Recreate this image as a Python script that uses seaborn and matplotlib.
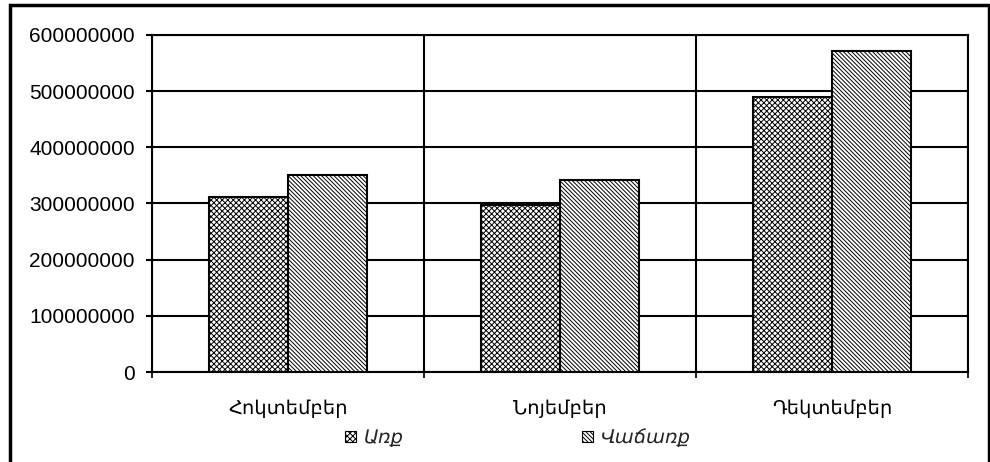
import pandas as pd
import matplotlib.pyplot as plt
import matplotlib.patches as mpatches
import seaborn as sns

# Chart data
months = ['Հոկտեմբեր', 'Նոյեմբեր', 'Դեկտեմբեր']
series_names = ['Առք', 'Վաճառք']
buy_values = [312000000, 298000000, 490000000]
sell_values = [351000000, 341000000, 571000000]
y_ticks = [0, 100000000, 200000000, 300000000, 400000000, 500000000, 600000000]

df = pd.DataFrame({
    'month': months * 2,
    'series': [series_names[0]] * 3 + [series_names[1]] * 3,
    'value': buy_values + sell_values,
})

sns.set_style('white')
plt.rcParams['font.family'] = ['Liberation Sans', 'DejaVu Sans']
plt.rcParams['hatch.linewidth'] = 0.7
plt.rcParams['hatch.color'] = 'black'

fig = plt.figure(figsize=(9.9, 4.62), dpi=100)
ax = fig.add_axes([152 / 990, 90 / 462, 816 / 990, 337 / 462])

sns.barplot(data=df, x='month', y='value', hue='series', order=months,
            hue_order=series_names, width=0.58, ax=ax, legend=False,
            saturation=1)

# hatch density: each character gives 6 lines per inch
hatches = ['x' * 6, '\\' * 8]
for container, hatch in zip(ax.containers, hatches):
    for bar in container:
        bar.set_facecolor('white')
        bar.set_edgecolor('black')
        bar.set_linewidth(1.5)
        bar.set_hatch(hatch)
        bar.set_zorder(3)

ax.set_xlim(-0.5, 2.5)
ax.set_ylim(0, 600000000)
ax.set_yticks(y_ticks)
ax.set_yticklabels([str(v) for v in y_ticks])
ax.set_xticks([0, 1, 2])
ax.set_xticks([-0.5, 0.5, 1.5, 2.5], minor=True)
ax.set_xlabel('')
ax.set_ylabel('')

ax.grid(axis='y', which='major', color='black', linewidth=1.5, zorder=0)
ax.grid(axis='x', which='minor', color='black', linewidth=1.5, zorder=0)
ax.grid(axis='x', which='major', visible=False)
ax.set_axisbelow(True)

for spine in ax.spines.values():
    spine.set_visible(True)
    spine.set_color('black')
    spine.set_linewidth(1.5)

ax.tick_params(axis='y', which='major', direction='out', length=4.3, width=1.5,
               pad=8, labelsize=15, colors='black', left=True)
ax.tick_params(axis='x', which='major', length=0, pad=20, labelsize=14,
               colors='black')
ax.tick_params(axis='x', which='minor', direction='out', length=4.3,
               width=1.5, bottom=True)

# Legend below the chart
handles = [mpatches.Patch(facecolor='white', edgecolor='black', hatch=h,
                          linewidth=0.8, label=n)
           for h, n in zip(hatches, series_names)]
fig.legend(handles=handles, loc='center left',
           bbox_to_anchor=(345 / 990, 24 / 462), ncol=2, frameon=False,
           prop={'style': 'italic', 'size': 14}, handlelength=0.55,
           handleheight=0.55, handletextpad=0.4, columnspacing=9.2,
           borderpad=0, borderaxespad=0)

# Outer chart frame
frame = mpatches.Rectangle((10 / 990, -0.05), 979 / 990, 0.05 + 457 / 462,
                           transform=fig.transFigure, fill=False,
                           edgecolor='black', linewidth=2.5, clip_on=False)
fig.patches.append(frame)

fig.savefig('out.png', dpi=100)
